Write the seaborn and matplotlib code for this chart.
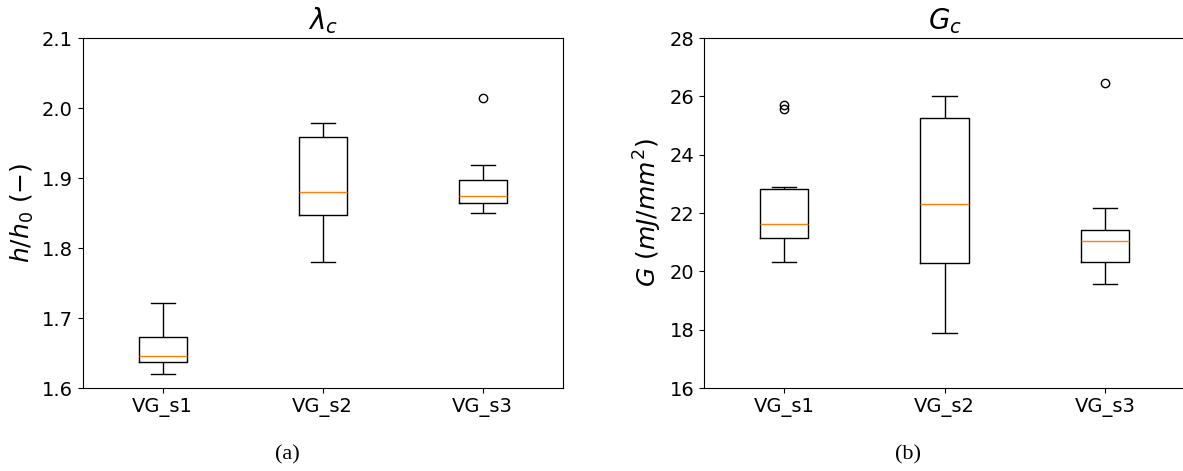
import numpy as np
import pandas as pd
import matplotlib
matplotlib.use("Agg")
import matplotlib.pyplot as plt
import seaborn as sns

# specimen groups
groups = ["VG_s1", "VG_s2", "VG_s3"]

# critical stretch h/h0 per specimen
lam_s1 = [1.620, 1.630, 1.637, 1.642, 1.646, 1.660, 1.673, 1.690, 1.722]
lam_s2 = [1.780, 1.810, 1.847, 1.865, 1.880, 1.920, 1.959, 1.970, 1.979]
lam_s3 = [1.850, 1.858, 1.865, 1.870, 1.874, 1.885, 1.897, 1.919, 2.015]

# critical energy G (mJ/mm^2) per specimen
g_s1 = [20.32, 20.70, 21.00, 21.15, 21.30, 21.45, 21.62, 21.90, 22.40,
        22.83, 22.90, 25.55, 25.70]
g_s2 = [17.87, 19.50, 20.30, 21.20, 22.32, 23.80, 25.25, 25.60, 26.01]
g_s3 = [19.58, 20.10, 20.32, 20.70, 21.03, 21.20, 21.42, 22.16, 26.46]

lam_ticks = [1.6, 1.7, 1.8, 1.9, 2.0, 2.1]
g_ticks = [16, 18, 20, 22, 24, 26, 28]


def long_form(values):
    rows = []
    for name, vals in zip(groups, values):
        for v in vals:
            rows.append({"group": name, "value": v})
    return pd.DataFrame(rows)


def draw_box(ax, df):
    sns.boxplot(data=df, x="group", y="value", order=groups, ax=ax,
                width=0.3, fill=False, color="black", linewidth=1.0,
                whis=1.5,
                medianprops={"color": "#ff7f0e", "linewidth": 1.0},
                flierprops={"marker": "o", "markerfacecolor": "none",
                            "markeredgecolor": "black", "markersize": 6,
                            "markeredgewidth": 1.0})
    ax.set_xlabel("")
    ax.set_xlim(-0.5, 2.5)
    ax.tick_params(labelsize=14)


lam_df = long_form([lam_s1, lam_s2, lam_s3])
g_df = long_form([g_s1, g_s2, g_s3])

W, H = 1183, 471
fig = plt.figure(figsize=(W / 100, H / 100), dpi=100)
ax1 = fig.add_axes([82.7 / W, 1 - 388 / H, 480 / W, 350 / H])
ax2 = fig.add_axes([704 / W, 1 - 388 / H, 481 / W, 350 / H])

draw_box(ax1, lam_df)
ax1.set_ylim(1.6, 2.1)
ax1.set_yticks(lam_ticks)
ax1.set_yticklabels([f"{t:.1f}" for t in lam_ticks])
ax1.set_ylabel(r"$h/h_0\ (-)$", fontsize=18)
ax1.set_title(r"$\lambda_c$", fontsize=20)

draw_box(ax2, g_df)
ax2.set_ylim(16, 28)
ax2.set_yticks(g_ticks)
ax2.set_ylabel(r"$G\ (mJ/mm^2)$", fontsize=18)
ax2.set_title(r"$G_c$", fontsize=20)
# right panel is cut at the image edge in the reference
ax2.spines["right"].set_visible(False)

fig.text(287 / W, 1 - 455 / H, "(a)", ha="center", va="center",
         family="Liberation Serif", fontsize=16)
fig.text(908 / W, 1 - 455 / H, "(b)", ha="center", va="center",
         family="Liberation Serif", fontsize=16)

fig.savefig("out.png", dpi=100)
plt.close(fig)
